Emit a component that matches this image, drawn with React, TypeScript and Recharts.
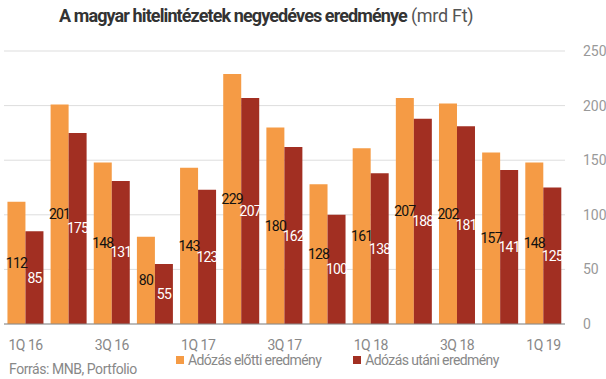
import { BarChart, Bar, XAxis, YAxis, CartesianGrid, LabelList } from 'recharts';

const quarters = ['1Q 16', '2Q 16', '3Q 16', '4Q 16', '1Q 17', '2Q 17', '3Q 17', '4Q 17', '1Q 18', '2Q 18', '3Q 18', '4Q 18', '1Q 19'];
const beforeTax = [112, 201, 148, 80, 143, 229, 180, 128, 161, 207, 202, 157, 148];
const afterTax = [85, 175, 131, 55, 123, 207, 162, 100, 138, 188, 181, 141, 125];
const yTicks = [0, 50, 100, 150, 200, 250];

const ORANGE = '#F59B45';
const RED = '#A22F22';

const data = quarters.map((q, i) => ({ q, before: beforeTax[i], after: afterTax[i] }));

const font = 'Roboto, "Noto Sans", sans-serif';

const legendItems = [
    { label: 'Adózás előtti eredmény', color: ORANGE },
    { label: 'Adózás utáni eredmény', color: RED },
];

export default function App() {
    return (
        <div style={{ position: 'absolute', left: 0, top: 0, width: 606, height: 379, background: '#fff', fontFamily: font }}>
            <div style={{ position: 'absolute', top: 5, left: 59, whiteSpace: 'nowrap', fontSize: 18, color: '#333', letterSpacing: -0.9 }}>
                <span style={{ fontWeight: 700 }}>A magyar hitelintézetek negyedéves eredménye</span>
                <span style={{ fontWeight: 400, color: '#555', letterSpacing: -0.3 }}> (mrd Ft)</span>
            </div>
            <BarChart
                width={606}
                height={379}
                data={data}
                margin={{ top: 51, right: 0, left: 4, bottom: 25 }}
                barCategoryGap="8%"
                barGap={0}
            >
                <CartesianGrid vertical={false} stroke="#ddd" />
                <XAxis
                    dataKey="q"
                    height={30}
                    interval={1}
                    tickLine={false}
                    axisLine={{ stroke: '#888' }}
                    tick={{ fill: '#888', fontSize: 14, fontFamily: font, letterSpacing: -0.5 }}
                    tickMargin={10}
                />
                <YAxis
                    orientation="right"
                    width={41}
                    domain={[0, 250]}
                    ticks={yTicks}
                    tickLine={false}
                    axisLine={false}
                    tick={{ fill: '#999', fontSize: 14, fontFamily: font, dx: 10 }}
                />
                <Bar dataKey="before" fill={ORANGE} isAnimationActive={false}>
                    <LabelList dataKey="before" position="center" fill="#111" fontSize={14} fontFamily={font} letterSpacing={-0.8} />
                </Bar>
                <Bar dataKey="after" fill={RED} isAnimationActive={false}>
                    <LabelList dataKey="after" position="center" fill="#ffffff" fontSize={14} fontFamily={font} letterSpacing={-0.8} />
                </Bar>
            </BarChart>
            <div style={{ position: 'absolute', left: 176, top: 352, display: 'flex', gap: 32, fontSize: 14, color: '#888', letterSpacing: -0.6 }}>
                {legendItems.map(it => (
                    <div key={it.label} style={{ display: 'flex', alignItems: 'center' }}>
                        <span style={{ width: 8, height: 8, background: it.color, marginRight: 4, display: 'inline-block' }} />
                        {it.label}
                    </div>
                ))}
            </div>
            <div style={{ position: 'absolute', left: 9, top: 361, fontSize: 14, color: '#888', letterSpacing: -0.45 }}>Forrás: MNB, Portfolio</div>
        </div>
    );
}
